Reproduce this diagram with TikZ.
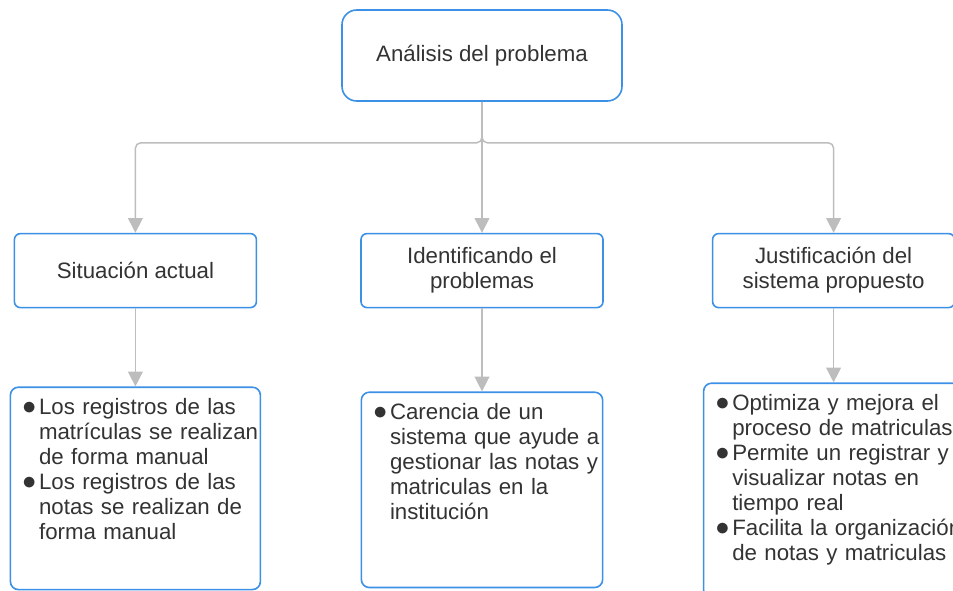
\documentclass[tikz,border=0pt]{standalone}
\usepackage{fontspec}
\setmainfont{Liberation Sans}
\usetikzlibrary{arrows.meta, positioning}
\definecolor{boxblue}{HTML}{3C91E6}
\definecolor{linkgray}{HTML}{BDBDBD}
\definecolor{txtgray}{HTML}{333333}
\tikzset{
    %Define standard arrow tip
    >={Triangle[length=11pt,width=11pt]},
}
\newcommand{\itm}[1]{\strut\makebox[12.5pt][l]{\scalebox{1.2}{$\bullet$}}\mbox{#1}}
\newcommand{\cnt}[1]{\strut\hspace*{12.5pt}\mbox{#1}}

\begin{document}
\begin{tikzpicture}[x=0.75pt,y=-0.75pt]
    \tikzset{
      box/.style={draw=boxblue, fill=white,
                  line width=1.2pt,
                  text=txtgray,
                  font=\fontsize{16.7}{18.75}\selectfont,
                  rounded corners=4.5pt},
      headbox/.style={box, minimum width=210pt, minimum height=68.25pt,
                  rounded corners=11pt},
      midbox/.style={box, minimum width=181.5pt, minimum height=55.5pt,
                  align=center},
      listbox/.style={box, align=left, inner xsep=9pt, inner ysep=7.125pt,
                  text height=13.125pt, rounded corners=6pt},
      link/.style={draw=linkgray, line width=1.1pt, ->, rounded corners=4pt}
    }
    \useasboundingbox (0,0) rectangle (953,590);

    \node [headbox] (top) at (482,55.5) {Análisis del problema};
    \node [midbox, below=98.25pt of top] (ident) {Identificando el\\problemas};
    \node [midbox, left=77.25pt of ident] (sit) {Situación actual};
    \node [midbox, right=81pt of ident] (just) {Justificación del\\sistema propuesto};

    % lists under each heading
    \node [listbox, text width=169.5pt, text depth=124.4pt, below=58.5pt of sit] (sitlist)
        {\itm{Los registros de las}\\ \cnt{matrículas se realizan}\\ \cnt{de forma manual}\\
         \itm{Los registros de las}\\ \cnt{notas se realizan de}\\ \cnt{forma manual}};
    \node [listbox, text width=163pt, text depth=119.1pt, below=62.25pt of ident] (identlist)
        {\itm{Carencia de un}\\ \cnt{sistema que ayude a}\\ \cnt{gestionar las notas y}\\
         \cnt{matriculas en la}\\ \cnt{institución}};
    \node [listbox, text width=177pt, text depth=134pt, below=55.5pt of just] (justlist)
        {\itm{Optimiza y mejora el}\\ \cnt{proceso de matriculas}\\
         \itm{Permite un registrar y}\\ \cnt{visualizar notas en}\\ \cnt{tiempo real}\\
         \itm{Facilita la organización}\\ \cnt{de notas y matriculas}};

    \coordinate [below=30.75pt of top] (hub);
    \draw [link] (top.south) -- (hub) -| (sit.north);
    \draw [link] (top.south) -- (hub) -| (just.north);
    \draw [link] (top.south) -- (ident.north);

    \draw [link] (sit) -- (sitlist);
    \draw [link] (ident) -- (identlist);
    \draw [link] (just) -- (justlist);
\end{tikzpicture}
\end{document}
